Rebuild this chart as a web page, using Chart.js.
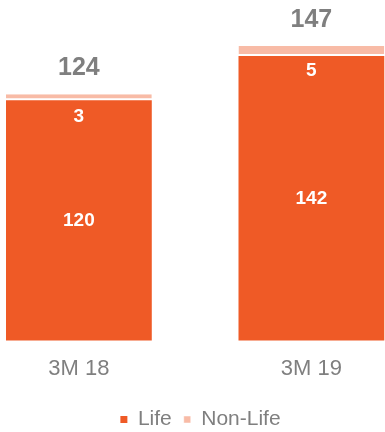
<!DOCTYPE html>
<html>
<head>
<meta charset="utf-8">
<script src="https://cdn.jsdelivr.net/npm/chart.js@4.4.0/dist/chart.umd.min.js"></script>
<style>
    html, body { margin: 0; padding: 0; background: #fff; }
    #wrap { width: 385px; height: 432px; }
</style>
</head>
<body>
<div id="wrap"><canvas id="myChart"></canvas></div>
<script>
var categories = ['3M 18', '3M 19'];
var lifeValues = [120, 142];
var nonLifeValues = [3, 5];
var totals = [124, 147];

var orange = '#EF5A26';
var pink = '#F8BBA6';
var grey = '#7F7F7F';
var font = '"Liberation Sans", Arial, sans-serif';

// Punkty {x, y} dla osi liniowej X
function points(values) {
    return values.map(function (v, i) {
        return { x: i, y: v };
    });
}

// Etykiety wartości na słupkach i sumy nad nimi
var valueLabels = {
    id: 'valueLabels',
    afterDatasetsDraw: function (chart) {
        var ctx = chart.ctx;
        var life = chart.getDatasetMeta(0).data;
        var nonLife = chart.getDatasetMeta(1).data;
        ctx.save();
        ctx.textAlign = 'center';
        ctx.textBaseline = 'middle';
        life.forEach(function (bar, i) {
            var top = nonLife[i];
            ctx.fillStyle = '#fff';
            ctx.font = 'bold 19px ' + font;
            ctx.fillText(lifeValues[i], bar.x, (bar.y + bar.base) / 2);
            ctx.fillText(nonLifeValues[i], top.x, (top.y + top.base) / 2 + 20);
            ctx.fillStyle = grey;
            ctx.font = 'bold 25px ' + font;
            ctx.fillText(totals[i], top.x, top.y - 26);
        });
        ctx.restore();
    }
};

var ctx = document.getElementById('myChart').getContext('2d');

var chart = new Chart(ctx, {
    type: 'bar',
    data: {
        datasets: [{
            label: 'Life',
            backgroundColor: orange,
            clip: false,
            data: points(lifeValues),
        },
        {
            label: 'Non-Life',
            backgroundColor: pink,
            borderColor: '#fff',
            borderWidth: { top: 0, left: 0, right: 0, bottom: 2 },
            borderSkipped: false,
            clip: false,
            data: points(nonLifeValues),
        }]
    },
    options: {
        responsive: true,
        maintainAspectRatio: false,
        animation: false,
        categoryPercentage: 1,
        barPercentage: 0.627,
        layout: { padding: { top: 0, left: 16, right: 0, bottom: -8 } },
        plugins: {
            tooltip: { enabled: false },
            legend: {
                position: 'bottom',
                labels: {
                    boxWidth: 7,
                    boxHeight: 7,
                    padding: 12,
                    color: grey,
                    font: { family: font, size: 21 }
                }
            }
        },
        scales: {
            x: {
                type: 'linear',
                stacked: true,
                offset: false,
                min: -0.2705,
                max: 1.3166,
                grid: { display: false, drawTicks: false },
                border: { display: false },
                afterBuildTicks: function (scale) {
                    scale.ticks = categories.map(function (c, i) {
                        return { value: i };
                    });
                },
                ticks: {
                    padding: 15,
                    color: grey,
                    font: { family: font, size: 22 },
                    callback: function (value) {
                        return categories[value];
                    }
                }
            },
            y: {
                display: false,
                stacked: true,
                min: 0,
                max: 170
            }
        }
    },
    plugins: [valueLabels]
});
</script>
</body>
</html>
